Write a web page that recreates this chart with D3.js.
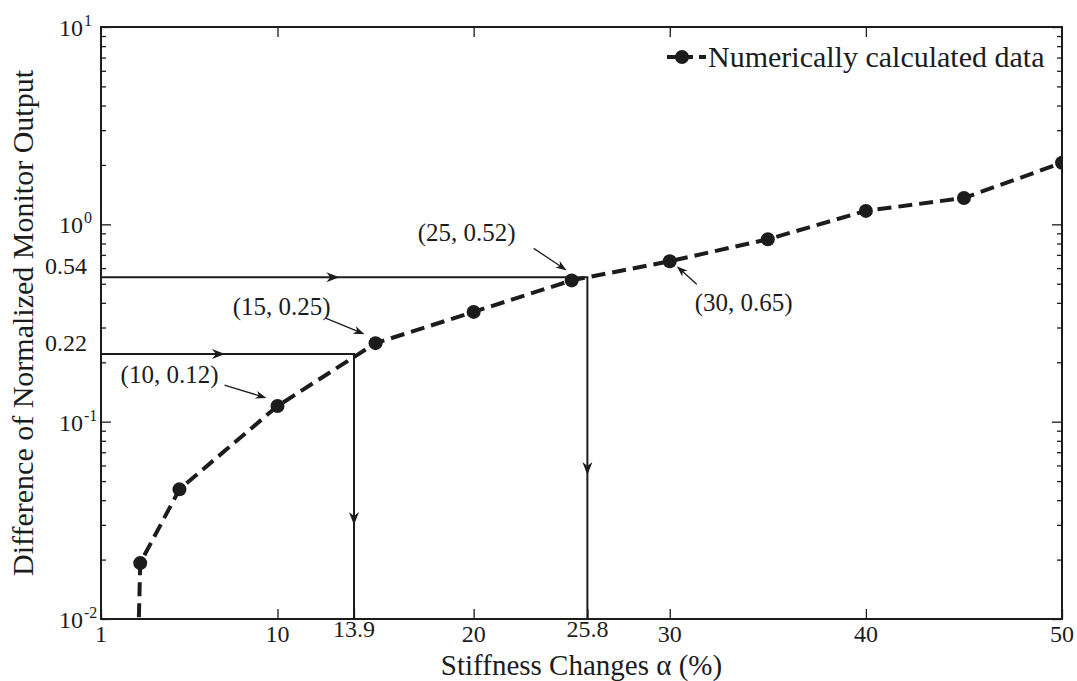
<!DOCTYPE html>
<html>
<head>
<meta charset="utf-8">
<script src="https://cdn.jsdelivr.net/npm/d3@7"></script>
<style>
  body { margin: 0; background: #fff; }
  svg { display: block; font-family: "Liberation Serif", "Times New Roman", serif; }
</style>
</head>
<body>
<svg id="chart" width="1077" height="681"></svg>
<script>
// Stiffness change (%) against the difference of the normalized monitor output
const stiffness   = [2.8, 3, 5, 10, 15, 20, 25, 30, 35, 40, 45, 50];
const monitorDiff = [0.003, 0.0192, 0.0454, 0.12, 0.25, 0.36, 0.52, 0.65, 0.84, 1.17, 1.36, 2.05];

// Axis ticks and their labels
const xTicks      = [1, 10, 13.9, 20, 25.8, 30, 40, 50];
const xTickLabels = ["1", "10", "13.9", "20", "25.8", "30", "40", "50"];
const xTopTicks   = [10, 20, 30, 40];
const yTicks      = [0.01, 0.1, 0.22, 0.54, 1, 10];
const yTickBase   = ["10", "10", "0.22", "0.54", "10", "10"];
const yTickExp    = ["-2", "-1", "", "", "0", "1"];

// Read-off lines: output level -> stiffness change
const readY = [0.22, 0.54];
const readX = [13.9, 25.8];

// Labelled points
const calloutX    = [10, 15, 25, 30];
const calloutY    = [0.12, 0.25, 0.52, 0.65];
const calloutText = ["(10, 0.12)", "(15, 0.25)", "(25, 0.52)", "(30, 0.65)"];

const legendText = "Numerically calculated data";
const xTitle = "Stiffness Changes \u03b1 (%)";
const yTitle = "Difference of Normalized Monitor Output";

// ---- layout & style ----
const plot = { left: 101, right: 1062, top: 27, bottom: 619 };
const ink = "#1c1c1c";
// callout geometry relative to the marked point: [textX, textY, anchor, tailDx, tailDy, tipDx, tipDy]
const calloutGeom = [
  [-59, -23, "end",   -53, -21, -11, -8],
  [-45, -28, "end",   -50, -25, -11, -9],
  [-56, -39, "end",   -38, -32,  -5, -10],
  [ 25,  50, "start",  27,  23,   7,  5]
];
// position of the arrowhead along each read-off segment (0..1)
const hArrowAt = [0.49, 0.49];
const vArrowAt = [0.645, 0.579];

const x = d3.scaleLinear().domain([1, 50]).range([plot.left, plot.right]);
const y = d3.scaleLog().domain([0.01, 10]).range([plot.bottom, plot.top]);

const svg = d3.select("#chart");

svg.append("defs").append("clipPath").attr("id", "plotClip")
  .append("rect")
  .attr("x", plot.left).attr("y", plot.top)
  .attr("width", plot.right - plot.left).attr("height", plot.bottom - plot.top);

// filled arrowhead with notched back, tip at (tx, ty) pointing along angle a
function arrowHead(tx, ty, a, len, half, notch) {
  const c = Math.cos(a), s = Math.sin(a);
  const bx = tx - c * len, by = ty - s * len;
  const nx = tx - c * (len - notch), ny = ty - s * (len - notch);
  return `M${tx},${ty}L${bx - s * half},${by + c * half}L${nx},${ny}L${bx + s * half},${by - c * half}Z`;
}

// ---- axes (ticks point inward) ----
const minorY = [];
for (let e = -2; e < 1; e++) for (let m = 2; m <= 9; m++) minorY.push(m * Math.pow(10, e));
const majorY = [0.01, 0.1, 1, 10];

function styleAxis(g) {
  g.select(".domain").remove();
  g.selectAll("line").attr("stroke", ink).attr("stroke-width", 1.3);
  g.selectAll("text").remove();
}

svg.append("g").attr("transform", `translate(${plot.left},0)`)
  .call(d3.axisLeft(y).tickValues(minorY).tickSizeInner(-5).tickSizeOuter(0)).call(styleAxis);
svg.append("g").attr("transform", `translate(${plot.left},0)`)
  .call(d3.axisLeft(y).tickValues(majorY).tickSizeInner(-10).tickSizeOuter(0)).call(styleAxis);
svg.append("g").attr("transform", `translate(${plot.right},0)`)
  .call(d3.axisRight(y).tickValues(minorY).tickSizeInner(-5).tickSizeOuter(0)).call(styleAxis);
svg.append("g").attr("transform", `translate(${plot.right},0)`)
  .call(d3.axisRight(y).tickValues(majorY).tickSizeInner(-10).tickSizeOuter(0)).call(styleAxis);
svg.append("g").attr("transform", `translate(0,${plot.bottom})`)
  .call(d3.axisBottom(x).tickValues(xTicks).tickSizeInner(-10).tickSizeOuter(0)).call(styleAxis);
svg.append("g").attr("transform", `translate(0,${plot.top})`)
  .call(d3.axisTop(x).tickValues(xTopTicks).tickSizeInner(-10).tickSizeOuter(0)).call(styleAxis);

// frame
svg.append("rect")
  .attr("x", plot.left).attr("y", plot.top)
  .attr("width", plot.right - plot.left).attr("height", plot.bottom - plot.top)
  .attr("fill", "none").attr("stroke", ink).attr("stroke-width", 2);

// x tick labels
svg.append("g").selectAll("text").data(xTicks).join("text")
  .attr("x", d => x(d))
  .attr("y", d => (d === 13.9 || d === 25.8) ? 637 : 642)
  .attr("text-anchor", "middle")
  .attr("font-size", 24).attr("fill", ink)
  .text((d, i) => xTickLabels[i]);

// y tick labels (powers of ten with superscripts)
const yl = svg.append("g").selectAll("text").data(yTicks).join("text")
  .attr("font-size", 24).attr("fill", ink)
  .attr("x", (d, i) => yTickExp[i] ? 59 : 87)
  .attr("y", (d, i) => yTickExp[i] ? y(d) + 9 : y(d) - 3)
  .attr("text-anchor", (d, i) => yTickExp[i] ? "start" : "end");
yl.append("tspan").text((d, i) => yTickBase[i]);
yl.append("tspan")
  .attr("font-size", 16).attr("dy", -10).attr("dx", 1)
  .text((d, i) => yTickExp[i]);

// ---- read-off lines ----
const readG = svg.append("g");
readY.forEach((v, i) => {
  const x0 = x(1), x1 = x(readX[i]), y0 = y(v), y1 = y(0.01);
  readG.append("path")
    .attr("d", `M${x0},${y0}H${x1}V${y1}`)
    .attr("fill", "none").attr("stroke", ink).attr("stroke-width", 2);
  readG.append("path")
    .attr("d", arrowHead(x0 + (x1 - x0) * hArrowAt[i], y0, 0, 13, 5, 4))
    .attr("fill", ink);
  readG.append("path")
    .attr("d", arrowHead(x1, y0 + (y1 - y0) * vArrowAt[i], Math.PI / 2, 13, 5, 4))
    .attr("fill", ink);
});

// ---- data series ----
const pts = stiffness.map((s, i) => ({ s, v: monitorDiff[i] }));
const line = d3.line().x(d => x(d.s)).y(d => y(d.v));

const series = svg.append("g").attr("clip-path", "url(#plotClip)");
series.append("path")
  .datum(pts)
  .attr("d", line)
  .attr("fill", "none").attr("stroke", ink)
  .attr("stroke-width", 4).attr("stroke-dasharray", "14,7");
series.selectAll("circle").data(pts).join("circle")
  .attr("cx", d => x(d.s)).attr("cy", d => y(d.v)).attr("r", 7)
  .attr("fill", ink);

// ---- callouts ----
const cg = svg.append("g");
calloutX.forEach((cx, i) => {
  const px = x(cx), py = y(calloutY[i]);
  const [tx, ty, anchor, ax0, ay0, ax1, ay1] = calloutGeom[i];
  cg.append("text")
    .attr("x", px + tx).attr("y", py + ty)
    .attr("text-anchor", anchor)
    .attr("font-size", 25).attr("fill", ink)
    .text(calloutText[i]);
  const sx = px + ax0, sy = py + ay0, ex = px + ax1, ey = py + ay1;
  const ang = Math.atan2(ey - sy, ex - sx);
  cg.append("line")
    .attr("x1", sx).attr("y1", sy)
    .attr("x2", ex - Math.cos(ang) * 6).attr("y2", ey - Math.sin(ang) * 6)
    .attr("stroke", ink).attr("stroke-width", 1.3);
  cg.append("path").attr("d", arrowHead(ex, ey, ang, 11, 4, 3)).attr("fill", ink);
});

// ---- legend ----
const lg = svg.append("g");
lg.append("line")
  .attr("x1", 667).attr("x2", 706).attr("y1", 57).attr("y2", 57)
  .attr("stroke", ink).attr("stroke-width", 4).attr("stroke-dasharray", "10,6");
lg.append("circle").attr("cx", 682).attr("cy", 57).attr("r", 7).attr("fill", ink);
lg.append("text")
  .attr("x", 708).attr("y", 67)
  .attr("font-size", 30).attr("fill", ink)
  .text(legendText);

// ---- axis titles ----
svg.append("text")
  .attr("x", (plot.left + plot.right) / 2).attr("y", 675)
  .attr("text-anchor", "middle")
  .attr("font-size", 29).attr("fill", ink)
  .text(xTitle);
svg.append("text")
  .attr("transform", `translate(33,${(plot.top + plot.bottom) / 2}) rotate(-90)`)
  .attr("text-anchor", "middle")
  .attr("font-size", 30).attr("fill", ink)
  .text(yTitle);
</script>
</body>
</html>
